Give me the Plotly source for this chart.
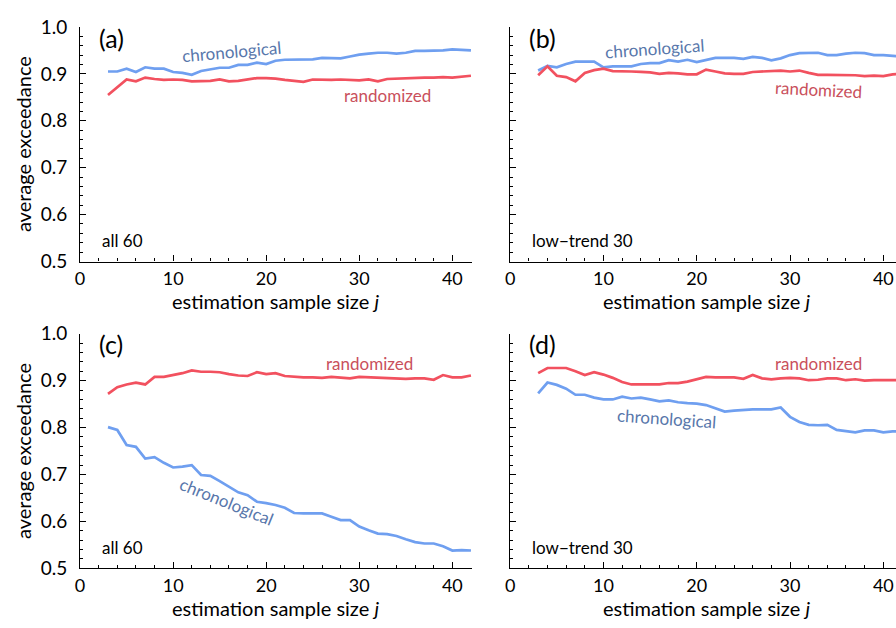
import plotly.graph_objects as go

# estimation sample size j
sample_size = list(range(3, 43))

# (a) all 60 series
a_chrono = [0.905, 0.905, 0.911, 0.904, 0.914, 0.911, 0.911, 0.904, 0.902, 0.898,
            0.906, 0.910, 0.913, 0.913, 0.919, 0.919, 0.924, 0.921, 0.928, 0.930,
            0.930, 0.930, 0.931, 0.934, 0.934, 0.933, 0.937, 0.941, 0.943, 0.945,
            0.945, 0.943, 0.945, 0.949, 0.949, 0.949, 0.950, 0.952, 0.951, 0.950]
a_random = [0.855, 0.871, 0.888, 0.884, 0.892, 0.889, 0.887, 0.888, 0.887, 0.884,
            0.885, 0.885, 0.888, 0.884, 0.885, 0.888, 0.891, 0.891, 0.890, 0.887,
            0.885, 0.883, 0.888, 0.887, 0.887, 0.888, 0.887, 0.886, 0.888, 0.884,
            0.889, 0.890, 0.891, 0.892, 0.892, 0.892, 0.893, 0.892, 0.894, 0.896]

# (b) low-trend 30 series
b_chrono = [0.907, 0.917, 0.914, 0.921, 0.926, 0.926, 0.926, 0.914, 0.916, 0.916,
            0.916, 0.921, 0.923, 0.923, 0.929, 0.926, 0.930, 0.925, 0.930, 0.934,
            0.934, 0.934, 0.932, 0.936, 0.934, 0.929, 0.933, 0.940, 0.944, 0.945,
            0.945, 0.940, 0.940, 0.943, 0.945, 0.944, 0.940, 0.940, 0.938, 0.937]
b_random = [0.897, 0.916, 0.896, 0.893, 0.884, 0.902, 0.908, 0.911, 0.906, 0.906,
            0.905, 0.904, 0.903, 0.900, 0.902, 0.901, 0.899, 0.899, 0.909, 0.905,
            0.901, 0.900, 0.900, 0.904, 0.905, 0.906, 0.907, 0.905, 0.907, 0.902,
            0.898, 0.898, 0.898, 0.898, 0.897, 0.895, 0.896, 0.895, 0.899, 0.900]

# (c) all 60 series
c_chrono = [0.801, 0.795, 0.763, 0.759, 0.734, 0.737, 0.725, 0.715, 0.717, 0.720,
            0.699, 0.697, 0.686, 0.674, 0.662, 0.656, 0.642, 0.639, 0.635, 0.629,
            0.618, 0.617, 0.617, 0.617, 0.610, 0.603, 0.603, 0.589, 0.581, 0.574,
            0.573, 0.569, 0.562, 0.556, 0.553, 0.553, 0.547, 0.538, 0.539, 0.538]
c_random = [0.872, 0.886, 0.892, 0.896, 0.892, 0.908, 0.908, 0.912, 0.916, 0.922,
            0.919, 0.919, 0.918, 0.914, 0.911, 0.910, 0.918, 0.914, 0.916, 0.910,
            0.908, 0.907, 0.907, 0.906, 0.908, 0.906, 0.905, 0.908, 0.907, 0.907,
            0.905, 0.904, 0.904, 0.905, 0.905, 0.902, 0.912, 0.907, 0.907, 0.911]

# (d) low-trend 30 series
d_chrono = [0.873, 0.896, 0.891, 0.883, 0.870, 0.870, 0.864, 0.860, 0.860, 0.866,
            0.862, 0.864, 0.860, 0.856, 0.858, 0.854, 0.852, 0.851, 0.848, 0.841,
            0.834, 0.836, 0.838, 0.839, 0.839, 0.839, 0.843, 0.823, 0.812, 0.806,
            0.805, 0.806, 0.795, 0.792, 0.790, 0.794, 0.794, 0.790, 0.792, 0.792]
d_random = [0.916, 0.927, 0.927, 0.927, 0.920, 0.912, 0.918, 0.913, 0.906, 0.897,
            0.892, 0.892, 0.893, 0.892, 0.895, 0.895, 0.898, 0.903, 0.908, 0.907,
            0.907, 0.907, 0.904, 0.912, 0.905, 0.903, 0.905, 0.906, 0.905, 0.901,
            0.902, 0.905, 0.905, 0.901, 0.903, 0.900, 0.901, 0.901, 0.901, 0.901]

y_ticks = [0.5, 0.6, 0.7, 0.8, 0.9, 1.0]
y_tick_text = ["0.5", "0.6", "0.7", "0.8", "0.9", "1.0"]
x_ticks = [0, 10, 20, 30, 40]

panel_letters = ["(a)", "(b)", "(c)", "(d)"]
panel_groups = ["all 60", "low\u2212trend 30", "all 60", "low\u2212trend 30"]

BLUE = "#6f9ff0"
RED = "#f2515f"
BLUE_TXT = "#5877ab"
RED_TXT = "#c9505c"
FONT = "Lato, Open Sans, sans-serif"

W, H = 896, 628

def px_x(p):
    return p / W

def px_y(p):
    return 1 - p / H

# panel boxes in pixels: (left, right, x_max) and (top, bottom)
cols = [(75.5, 469.5, 42.1), (508.0, 896.0, 41.36)]
rows = [(15.5, 259.0), (334.0, 577.5)]

series = [(a_chrono, a_random), (b_chrono, b_random),
          (c_chrono, c_random), (d_chrono, d_random)]

fig = go.Figure()
layout = {}
annotations = []

for k in range(4):
    r, c = divmod(k, 2)
    left, right, xmax = cols[c]
    top, bottom = rows[r]
    xa = "x" if k == 0 else f"x{k+1}"
    ya = "y" if k == 0 else f"y{k+1}"
    chrono, rand = series[k]
    fig.add_trace(go.Scatter(x=sample_size, y=chrono, mode="lines",
                             line=dict(color=BLUE, width=2.7),
                             xaxis=xa, yaxis=ya, showlegend=False, hoverinfo="skip"))
    fig.add_trace(go.Scatter(x=sample_size, y=rand, mode="lines",
                             line=dict(color=RED, width=2.7),
                             xaxis=xa, yaxis=ya, showlegend=False, hoverinfo="skip"))

    xkey = "xaxis" if k == 0 else f"xaxis{k+1}"
    ykey = "yaxis" if k == 0 else f"yaxis{k+1}"
    layout[xkey] = dict(
        domain=[px_x(left), min(px_x(right), 1.0)], range=[0, xmax],
        anchor=ya, showline=True, linecolor="black", linewidth=1.2,
        showgrid=False, zeroline=False,
        ticks="inside", ticklen=6, tickwidth=1, tickcolor="black",
        tickvals=x_ticks, ticktext=[str(v) for v in x_ticks],
        tickfont=dict(family=FONT, size=18, color="black"),
        ticklabelstandoff=1,
        minor=dict(dtick=2, tick0=0, ticks="inside", ticklen=3,
                   tickcolor="black", tickwidth=1, showgrid=False),
        fixedrange=True,
    )
    layout[ykey] = dict(
        domain=[px_y(bottom), px_y(top)], range=[0.5, 1.0],
        anchor=xa, showline=True, linecolor="black", linewidth=1.2,
        showgrid=False, zeroline=False,
        ticks="inside", ticklen=6, tickwidth=1, tickcolor="black",
        tickvals=y_ticks, ticktext=y_tick_text,
        showticklabels=(c == 0),
        tickfont=dict(family=FONT, size=19, color="black"),
        ticklabelstandoff=8,
        minor=dict(dtick=0.02, tick0=0.5, ticks="inside", ticklen=3,
                   tickcolor="black", tickwidth=1, showgrid=False),
        fixedrange=True,
    )

    # panel letter and group label
    annotations.append(dict(text=panel_letters[k], x=px_x(left + 17), y=px_y(top + 11),
                            xref="paper", yref="paper", xanchor="left", yanchor="middle",
                            showarrow=False, font=dict(family=FONT, size=25, color="black")))
    annotations.append(dict(text=panel_groups[k], x=px_x(left + 20), y=px_y(bottom - 22),
                            xref="paper", yref="paper", xanchor="left", yanchor="middle",
                            showarrow=False, font=dict(family=FONT, size=17, color="black")))
    # x-axis title
    annotations.append(dict(text="estimation sample size <i>j</i>",
                            x=px_x((left + (left + 42 * (right - left) / xmax)) / 2),
                            y=px_y(bottom + 41), xref="paper", yref="paper",
                            xanchor="center", yanchor="middle", showarrow=False,
                            font=dict(family=FONT, size=20, color="black")))

# y-axis titles
for top, bottom in rows:
    annotations.append(dict(text="average exceedance", x=px_x(18), y=px_y((top + bottom) / 2),
                            xref="paper", yref="paper", xanchor="center", yanchor="middle",
                            textangle=-90, showarrow=False,
                            font=dict(family=FONT, size=20, color="black")))

# curve labels: (x pixel, y pixel, text, colour, angle)
curve_labels = [
    (228, 41, "chronological", BLUE_TXT, -5),
    (385, 87, "randomized", RED_TXT, 0),
    (653, 38, "chronological", BLUE_TXT, -4),
    (818, 80, "randomized", RED_TXT, 3),
    (367, 365, "randomized", RED_TXT, 0),
    (223, 508, "chronological", BLUE_TXT, 22),
    (818, 365, "randomized", RED_TXT, 0),
    (665, 422, "chronological", BLUE_TXT, 4),
]
for xp, yp, txt, col, ang in curve_labels:
    annotations.append(dict(text=txt, x=px_x(xp), y=px_y(yp), xref="paper", yref="paper",
                            xanchor="center", yanchor="middle", textangle=ang,
                            showarrow=False, font=dict(family=FONT, size=17, color=col)))

fig.update_layout(
    width=W, height=H,
    margin=dict(l=0, r=0, t=0, b=0),
    paper_bgcolor="white", plot_bgcolor="white",
    annotations=annotations,
    **layout,
)

fig.write_html("out.html", config={"displayModeBar": False})
